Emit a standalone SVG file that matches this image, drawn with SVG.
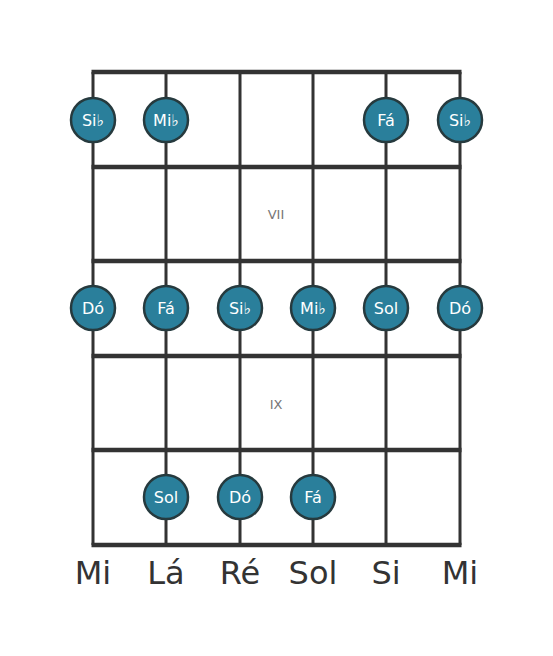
<svg xmlns="http://www.w3.org/2000/svg" width="553" height="656" viewBox="0 0 553 656">
<style>
.fret{stroke:#333;stroke-width:4.5}
.str{stroke:#333;stroke-width:3}
.dot circle{fill:#2a7f9b;stroke:#263a3e;stroke-width:2.5}
.dot text{fill:#fff;font-family:"DejaVu Sans",sans-serif;font-size:16px;text-anchor:middle;dominant-baseline:central}
.pos{fill:#777;font-family:"DejaVu Sans",sans-serif;font-size:13px;text-anchor:middle;dominant-baseline:central}
.tun{fill:#333;font-family:"DejaVu Sans",sans-serif;font-size:32px;text-anchor:middle}
</style>
<rect width="553" height="656" fill="#fff"/>
<g id="grid">
<line class="str" x1="93" y1="72" x2="93" y2="545"/>
<line class="str" x1="166" y1="72" x2="166" y2="545"/>
<line class="str" x1="240" y1="72" x2="240" y2="545"/>
<line class="str" x1="313" y1="72" x2="313" y2="545"/>
<line class="str" x1="386" y1="72" x2="386" y2="545"/>
<line class="str" x1="460" y1="72" x2="460" y2="545"/>
<line class="fret" x1="91.5" y1="72" x2="461.5" y2="72"/>
<line class="fret" x1="91.5" y1="167" x2="461.5" y2="167"/>
<line class="fret" x1="91.5" y1="261" x2="461.5" y2="261"/>
<line class="fret" x1="91.5" y1="356" x2="461.5" y2="356"/>
<line class="fret" x1="91.5" y1="450" x2="461.5" y2="450"/>
<line class="fret" x1="91.5" y1="545" x2="461.5" y2="545"/>
</g>
<text class="pos" x="276" y="214">VII</text>
<text class="pos" x="276" y="404">IX</text>
<g id="n1" class="dot"><circle cx="93" cy="120" r="22"/><text x="93" y="120">Si♭</text></g>
<g id="n2" class="dot"><circle cx="166" cy="120" r="22"/><text x="166" y="120">Mi♭</text></g>
<g id="n3" class="dot"><circle cx="386" cy="120" r="22"/><text x="386" y="120">Fá</text></g>
<g id="n4" class="dot"><circle cx="460" cy="120" r="22"/><text x="460" y="120">Si♭</text></g>
<g id="n5" class="dot"><circle cx="93" cy="308" r="22"/><text x="93" y="308">Dó</text></g>
<g id="n6" class="dot"><circle cx="166" cy="308" r="22"/><text x="166" y="308">Fá</text></g>
<g id="n7" class="dot"><circle cx="240" cy="308" r="22"/><text x="240" y="308">Si♭</text></g>
<g id="n8" class="dot"><circle cx="313" cy="308" r="22"/><text x="313" y="308">Mi♭</text></g>
<g id="n9" class="dot"><circle cx="386" cy="308" r="22"/><text x="386" y="308">Sol</text></g>
<g id="n10" class="dot"><circle cx="460" cy="308" r="22"/><text x="460" y="308">Dó</text></g>
<g id="n11" class="dot"><circle cx="166" cy="497" r="22"/><text x="166" y="497">Sol</text></g>
<g id="n12" class="dot"><circle cx="240" cy="497" r="22"/><text x="240" y="497">Dó</text></g>
<g id="n13" class="dot"><circle cx="313" cy="497" r="22"/><text x="313" y="497">Fá</text></g>
<g id="tuning">
<text class="tun" x="93" y="584">Mi</text>
<text class="tun" x="166" y="584">Lá</text>
<text class="tun" x="240" y="584">Ré</text>
<text class="tun" x="313" y="584">Sol</text>
<text class="tun" x="386" y="584">Si</text>
<text class="tun" x="460" y="584">Mi</text>
</g>
</svg>
